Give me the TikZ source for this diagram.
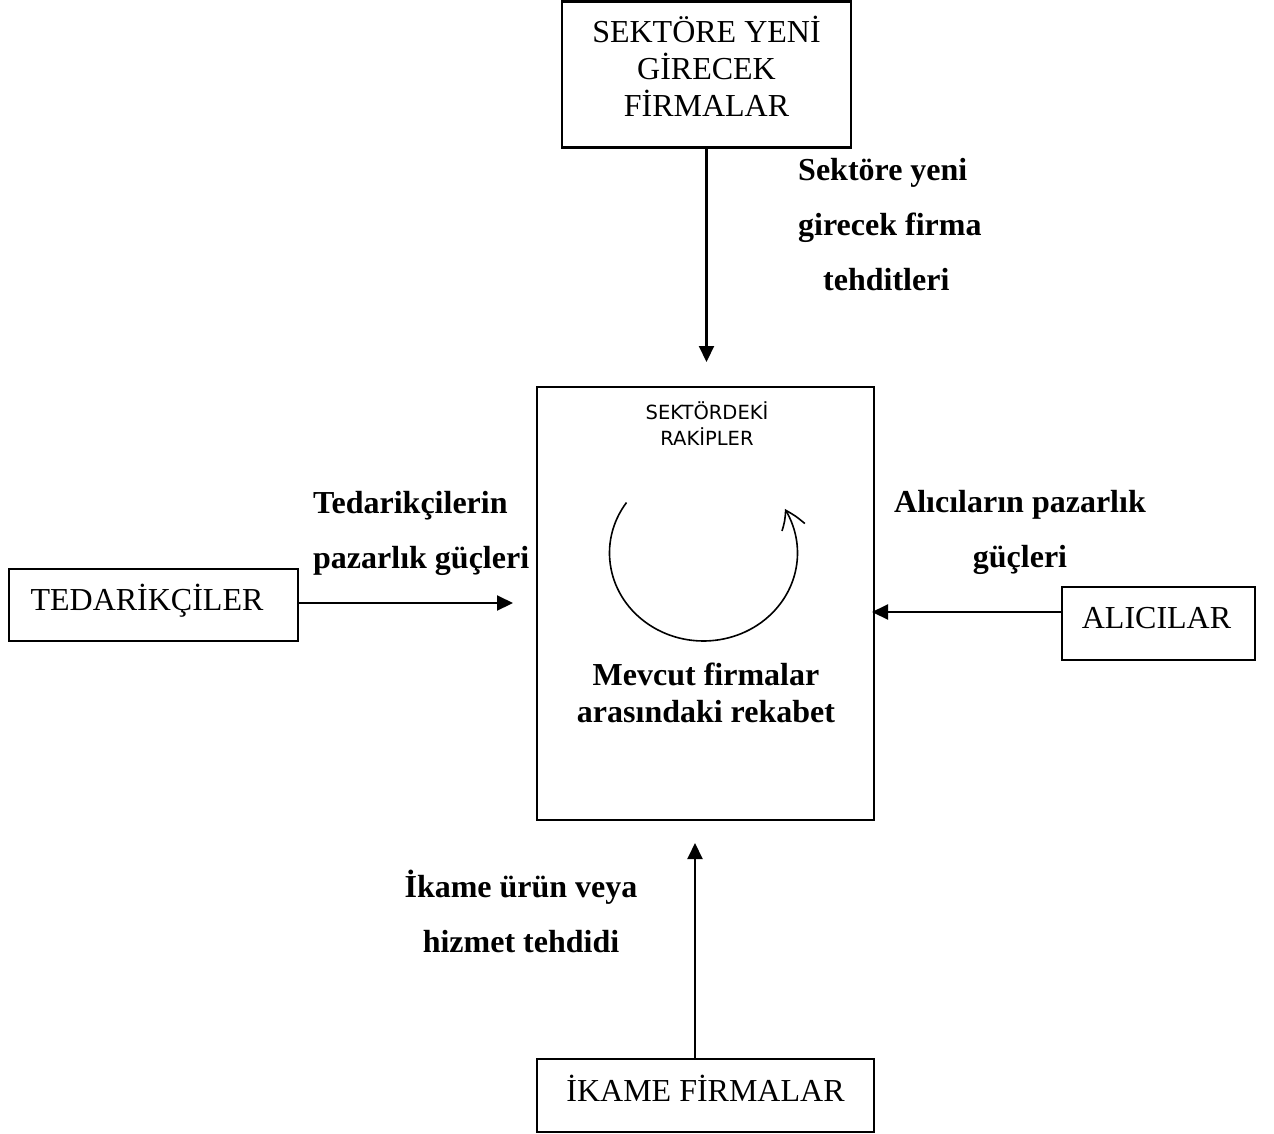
\documentclass[tikz,border=0pt]{standalone}
\usepackage{fontspec}
\setmainfont{Liberation Serif}
\newfontfamily\sanssmall{DejaVu Sans}
\usetikzlibrary{arrows.meta,bending}
\begin{document}
\begin{tikzpicture}[x=1pt,y=-1pt,
  box/.style={draw, line width=2.1pt, inner sep=0pt, font=\fontsize{32}{37}\selectfont, align=center},
  lbl/.style={font=\fontsize{32}{55}\selectfont\bfseries, inner sep=0pt},
  arr/.style={line width=2.1pt, -{Triangle[length=16pt,width=15pt]}},
  ring/.style={line width=1.6pt, -{Straight Barb[length=19pt,width=24pt,bend]}}
]
\useasboundingbox (0,0) rectangle (1274,1133);
\fill[white] (0,0) rectangle (1274,1133);

% boxes
\node[box, minimum width=289pt, minimum height=146pt] (new) at (706.5,74.5)
  {SEKTÖRE YENİ\\GİRECEK\\FİRMALAR\rule[-17pt]{0pt}{0pt}};
\node[box, minimum width=337pt, minimum height=433pt] (rival) at (705.5,603.5) {};
\node[box, minimum width=289pt, minimum height=72pt, text height=22pt, text depth=12pt] (sup) at (153.5,605)
  {TEDARİKÇİLER\hspace*{13pt}};
\node[box, minimum width=193pt, minimum height=73pt, text height=22pt, text depth=13pt] (buy) at (1158.5,623.5)
  {ALICILAR\hspace*{4pt}};
\node[box, minimum width=337pt, minimum height=73pt, text height=22pt, text depth=11pt] (sub) at (705.5,1095.5)
  {İKAME FİRMALAR};

% texts inside the central box (base = last line)
\node[font=\sanssmall\fontsize{19.5}{26}\selectfont, align=center, anchor=base] (rtitle) at (707,445)
  {SEKTÖRDEKİ\\RAKİPLER};
\node[font=\fontsize{32}{37}\selectfont\bfseries, align=center, anchor=base] (rtext) at (706,722)
  {Mevcut firmalar\\arasındaki rekabet};

% rotating arrow
\draw[ring] (626.5,502.5) arc[start angle=-145, end angle=-390, x radius=94, y radius=88];

% labels (base = last line)
\node[lbl, align=left, anchor=base west] (lnew) at (798,290) {Sektöre yeni\\girecek firma\\\hspace*{25pt}tehditleri};
\node[lbl, align=left, anchor=base west] (lsup) at (313,568) {Tedarikçilerin\\pazarlık güçleri};
\node[lbl, align=center, anchor=base] (lbuy) at (1020,567) {Alıcıların pazarlık\\güçleri};
\node[lbl, align=center, anchor=base] (lsub) at (521,952) {İkame ürün veya\\hizmet tehdidi};

% connectors
\coordinate (toptip) at (706.5,362);
\coordinate (lefttip) at (513,603);
\coordinate (righttip) at (872,612);
\coordinate (bottip) at (695,843);
\draw[arr] (new.south) -- (toptip);
\draw[arr] (sup.east |- lefttip) -- (lefttip);
\draw[arr] (buy.west |- righttip) -- (righttip);
\draw[arr] (sub.north -| bottip) -- (bottip);
\end{tikzpicture}
\end{document}
